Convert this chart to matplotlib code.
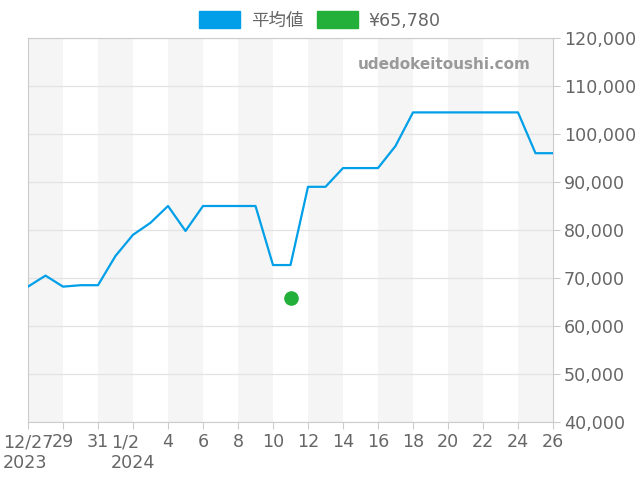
import numpy as np
import pandas as pd
import matplotlib
matplotlib.use('Agg')
import matplotlib.pyplot as plt
from matplotlib.patches import Patch

plt.rcParams['font.family'] = ['DejaVu Sans', 'Noto Sans CJK JP']

dates = pd.date_range('2023-12-27', '2024-01-26', freq='D')
avg_price = [68200, 70500, 68200, 68500, 68500, 74600, 79000, 81500, 85000, 79800,
             85000, 85000, 85000, 85000, 72700, 72700, 89000, 89000, 92900, 92900,
             92900, 97500, 104500, 104500, 104500, 104500, 104500, 104500, 104500,
             96000, 96000]
point_date = pd.Timestamp('2024-01-11')
point_price = 65780

tick_dates = pd.date_range('2023-12-27', '2024-01-26', freq='2D')
tick_labels = []
for d in tick_dates:
    if d == tick_dates[0]:
        tick_labels.append('12/27\n2023')
    elif d == pd.Timestamp('2024-01-02'):
        tick_labels.append('1/2\n2024')
    else:
        tick_labels.append(str(d.day))

fig = plt.figure(figsize=(6.4, 4.8), dpi=100)
ax = fig.add_axes([28/640, 1-422/480, 525/640, 384/480])

# alternating bands
for i in range(0, len(tick_dates) - 1, 2):
    ax.axvspan(tick_dates[i], tick_dates[i+1], color='#f5f5f5', lw=0, zorder=0)

ax.plot(dates, avg_price, color='#009fe8', lw=1.6, zorder=3)
ax.plot([point_date], [point_price], 'o', color='#22b03a', ms=9.5, zorder=4)

ax.set_xlim(dates[0], dates[-1])
ax.set_ylim(40000, 120000)
ax.set_yticks(np.arange(40000, 120001, 10000))
ax.yaxis.set_major_formatter(matplotlib.ticker.FuncFormatter(lambda v, p: f'{int(v):,}'))
ax.yaxis.tick_right()
ax.grid(axis='y', color='#e3e3e3', lw=0.9, zorder=1)
ax.set_axisbelow(True)

ax.set_xticks(tick_dates)
ax.set_xticklabels(tick_labels, ha='center')
for lbl in ax.get_xticklabels():
    if '\n' in lbl.get_text():
        lbl.set_multialignment('left')

ax.tick_params(axis='both', colors='#cccccc', labelcolor='#666666', labelsize=12.6, length=5, pad=3)
for s in ax.spines.values():
    s.set_color('#cccccc')

ax.text(0.958, 0.93, 'udedokeitoushi.com', transform=ax.transAxes, ha='right', va='center',
        fontsize=11, fontweight='bold', color='#999999')

handles = [Patch(color='#009fe8', label='平均値'), Patch(color='#22b03a', label='¥65,780')]
fig.legend(handles=handles, loc='upper center', bbox_to_anchor=(0.5, 1.01), ncol=2,
           frameon=False, fontsize=12.6, handlelength=2.34, handleheight=1.14,
           columnspacing=0.8, handletextpad=0.6, labelcolor='#666666')

fig.savefig('out.png', dpi=100)
